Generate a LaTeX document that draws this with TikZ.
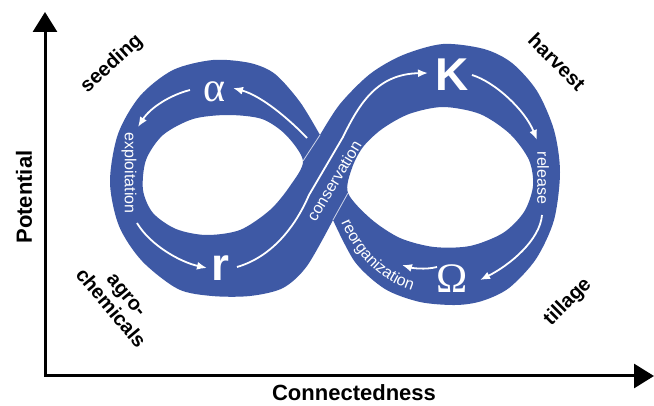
\documentclass[tikz,border=0pt]{standalone}
\usepackage{fontspec}
\setmainfont{Liberation Sans}
\newfontfamily\greekserif{Liberation Serif}
\usetikzlibrary{arrows.meta,decorations.text}
\definecolor{loopblue}{RGB}{62,89,165}
\tikzset{
  axis/.style={line width=3pt,line join=miter,{Triangle[length=20pt,width=24pt]}-{Triangle[length=20pt,width=24pt]}},
  flow/.style={white,line width=1.8pt,-{Latex[length=10pt,width=8pt]}},
  seam/.style={white,opacity=0.75,line width=0.8pt},
  phase/.style={white,inner sep=0pt,font=\fontsize{16}{18}\selectfont},
  stage/.style={white,inner sep=0pt,font=\bfseries\fontsize{46}{46}\selectfont},
  greekstage/.style={white,inner sep=0pt,font=\greekserif\fontsize{42}{42}\selectfont},
  practice/.style={black,align=center,font=\bfseries\fontsize{20}{21}\selectfont},
  axislabel/.style={black,font=\bfseries\fontsize{22}{24}\selectfont}
}
\begin{document}
\begin{tikzpicture}[x=1pt,y=-1pt]
  \fill[white] (0,0) rectangle (654,406);
  \useasboundingbox (0,0) rectangle (654,406);

  % axes
  \coordinate (O) at (45,376);
  \coordinate (ytip) at (45,12);
  \coordinate (xtip) at (654,376);
  \draw[axis] (ytip) -- (O) -- (xtip);
  \node[axislabel,rotate=90] (pot) at (24,197) {Potential};
  \node[axislabel] (conn) at (354,393) {Connectedness};

  % the adaptive cycle loop
  \fill[loopblue,even odd rule]
    plot[smooth] coordinates {(320,135) (340,104) (370,74) (403,55) (443,44) (484,49) (512,63) (537,91) (554,130) (560,172) (554,220) (536,259) (509,288) (482,301) (456,305) (420,302) (385,289) (355,262) (333,220)}
    -- plot[smooth] coordinates {(333,220) (307,266) (283,288) (250,296) (212,296) (178,289) (142,261) (119,226) (110,182) (118,134) (140,96) (173,70) (213,60) (250,63) (275,74) (300,102) (320,135)}
    -- cycle
    plot[smooth cycle] coordinates {(303,161) (286,135) (262,119) (228,115) (193,119) (163,135) (146,160) (143,190) (153,213) (176,229) (206,235) (240,230) (270,210) (290,186)}
    plot[smooth cycle] coordinates {(348,193) (352,168) (363,147) (382,129) (409,114) (443,107) (480,114) (510,134) (529,160) (533,186) (524,212) (503,233) (470,246) (434,247) (400,238) (371,219)};

  % conservation band lies over the other one
  \coordinate (topnotch) at (320,135);
  \coordinate (lefttip) at (303,161);
  \coordinate (righttip) at (348,193);
  \coordinate (botnotch) at (333,220);
  \draw[seam] (topnotch) -- (lefttip);
  \draw[seam] (righttip) -- (botnotch);

  % stages
  \node[stage] (K) at (452,75) {K};
  \node[stage] (r) at (220,268) {r};
  \node[greekstage] (alpha) at (215,92) {α};
  \node[greekstage] (omega) at (452,279) {Ω};

  % phases
  \node[phase,rotate=-90] (expl) at (129,173) {exploitation};
  \node[phase,rotate=-90] (rel) at (543,178) {release};
  \node[phase,rotate=59] (cons) at (334,181) {conservation};
  \path[decorate,decoration={text along path,text align=center,
      text={|\color{white}\fontsize{16}{18}\selectfont|reorganization}}]
    (337,213) .. controls (352,251) and (378,284) .. (422,293);

  % flow arrows
  \coordinate (cross1) at (307,138);
  \coordinate (alphain) at (233,88);
  \coordinate (alphaout) at (190,90);
  \coordinate (explin) at (138,127);
  \coordinate (explout) at (137,223);
  \coordinate (rin) at (207,268);
  \coordinate (rout) at (237,267);
  \coordinate (Kin) at (428,73);
  \coordinate (Kout) at (472,75);
  \coordinate (relin) at (537,140);
  \coordinate (relout) at (542,215);
  \coordinate (omegain) at (480,280);
  \coordinate (omegaout) at (437,267);
  \coordinate (reorgin) at (402,265);
  \draw[flow] (cross1) .. controls (290,120) and (262,96) .. (alphain);
  \draw[flow] (alphaout) .. controls (170,95) and (150,108) .. (explin);
  \draw[flow] (explout) .. controls (150,245) and (180,262) .. (rin);
  \draw[flow] (rout) .. controls (268,258) and (293,232) .. (309,195)
    -- (343,137) .. controls (360,102) and (378,74) .. (Kin);
  \draw[flow] (Kout) .. controls (495,82) and (525,110) .. (relin);
  \draw[flow] (relout) .. controls (540,240) and (510,265) .. (omegain);
  \draw[flow] (omegaout) .. controls (425,270) and (412,268) .. (reorgin);

  % management practices
  \node[practice,rotate=42] (seed) at (112,64) {seeding};
  \node[practice,rotate=-45] (harv) at (557,62) {harvest};
  \node[practice,rotate=45] (till) at (568,302) {tillage};
  \node[practice,rotate=-50] (agro) at (118,302) {agro-\\chemicals};
\end{tikzpicture}
\end{document}
